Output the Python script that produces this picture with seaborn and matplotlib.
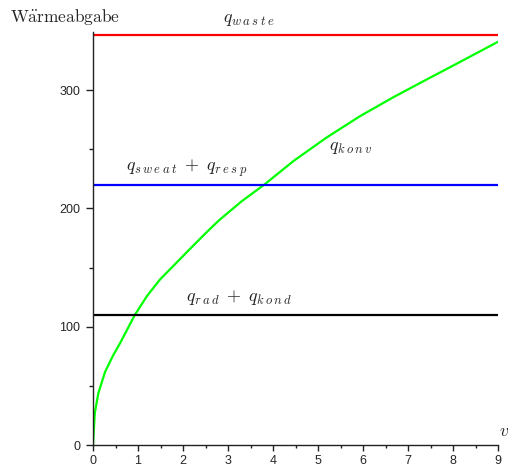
import matplotlib
matplotlib.use("Agg")
import matplotlib.pyplot as plt
import numpy as np
import pandas as pd
import seaborn as sns

# Convective heat loss over air speed v, plus constant loss terms
v = [0, 0.04, 0.12, 0.27, 0.45, 0.6, 0.93, 1.2, 1.49, 1.8, 2.16, 2.5, 2.8,
     3.3, 3.8, 4.45, 5.19, 5.93, 6.67, 7.41, 8.16, 9.0]
q_konv = [0, 27, 44, 62, 76, 86, 110, 126, 140, 152, 166, 179, 190,
          206, 220, 240, 260, 278, 294, 309, 324, 341]

v_range = [0, 9]
q_waste = [347, 347]
q_sweat_resp = [220, 220]
q_rad_kond = [110, 110]

x_ticks = [0, 1, 2, 3, 4, 5, 6, 7, 8, 9]
y_ticks = [0, 100, 200, 300]

sns.set_theme(style="ticks")
plt.rcParams["font.family"] = ["Liberation Sans", "DejaVu Sans"]
plt.rcParams["mathtext.fontset"] = "cm"

fig = plt.figure(figsize=(5.08, 4.70), dpi=100)
ax = fig.add_axes([93 / 508, 25 / 470, 405 / 508, 412.7 / 470])

curve = pd.DataFrame({"v": v, "q": q_konv})
sns.lineplot(data=curve, x="v", y="q", color="#00ff00", linewidth=1.6, ax=ax)

for vals, col in [(q_waste, "#ff0000"), (q_sweat_resp, "#0000ff"), (q_rad_kond, "#000000")]:
    sns.lineplot(x=v_range, y=vals, color=col, linewidth=1.6, ax=ax)

ax.set_xlim(0, 9)
ax.set_ylim(0, 349)
ax.set_xticks(x_ticks)
ax.set_yticks(y_ticks)
ax.set_xticks(np.arange(0.5, 9, 1.0), minor=True)
ax.set_yticks([50, 150, 250], minor=True)
ax.set_xlabel("")
ax.set_ylabel("")
sns.despine(ax=ax)
for s in ("left", "bottom"):
    ax.spines[s].set_linewidth(1.0)
    ax.spines[s].set_color("#222222")

ax.tick_params(axis="x", which="major", length=4.5, width=1, color="#222222",
               labelsize=9, pad=3)
ax.tick_params(axis="x", which="minor", length=2.5, width=1, color="#222222")
ax.tick_params(axis="y", which="major", length=5, width=1, color="#222222",
               labelsize=9, pad=4)
ax.tick_params(axis="y", which="minor", length=3, width=1, color="#222222")


def spaced(word):
    # wide letter spacing for the subscripts
    return r"\:".join(word)


lab = dict(fontsize=13, ha="center", va="center", clip_on=False)
ax.text(-1.84, 362, r"$\mathrm{W\ddot{a}rmeabgabe}$", fontsize=12.5, ha="left",
        va="center", clip_on=False)
ax.text(9.13, 11, r"$v$", **lab)
ax.text(3.47, 360, rf"$q_{{{spaced('waste')}}}$", **lab)
ax.text(2.09, 234, rf"$q_{{{spaced('sweat')}}}\;+\;q_{{{spaced('resp')}}}$", **lab)
ax.text(3.24, 125, rf"$q_{{{spaced('rad')}}}\;+\;q_{{{spaced('kond')}}}$", **lab)
ax.text(5.74, 252, rf"$q_{{{spaced('konv')}}}$", **lab)

fig.savefig("out.png", dpi=100)
